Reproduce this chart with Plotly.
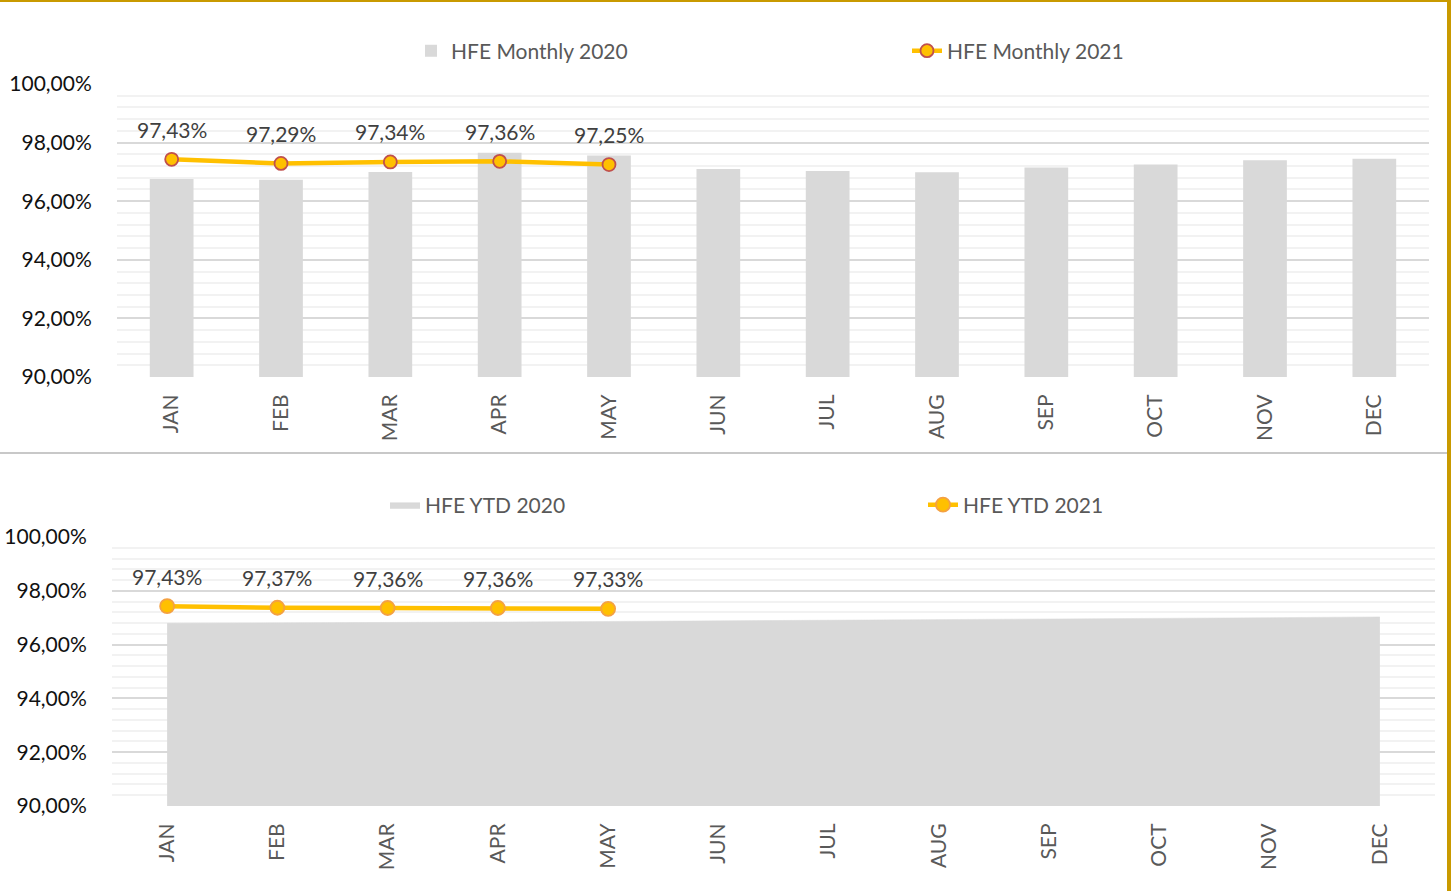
import plotly.graph_objects as go

months = ["JAN", "FEB", "MAR", "APR", "MAY", "JUN", "JUL", "AUG", "SEP", "OCT", "NOV", "DEC"]
monthly_2020 = [96.76, 96.73, 97.00, 97.65, 97.56, 97.10, 97.03, 96.99, 97.15, 97.25, 97.40, 97.45]
monthly_2021 = [97.43, 97.29, 97.34, 97.36, 97.25]
ytd_2020 = [96.79, 96.80, 96.82, 96.84, 96.86, 96.88, 96.90, 96.92, 96.95, 96.97, 97.00, 97.03]
ytd_2021 = [97.43, 97.37, 97.36, 97.36, 97.33]
y_ticks = [90, 92, 94, 96, 98, 100]

FONT = "Lato"
W, H = 1455, 891
GOLD = "#C99A00"
GREY_BAR = "#D9D9D9"
YELLOW = "#FFC000"


def fmt(v):
    return f"{v:.2f}".replace(".", ",") + "%"


fig = go.Figure()

fig.add_trace(go.Bar(
    x=months, y=monthly_2020, name="HFE Monthly 2020",
    marker=dict(color=GREY_BAR, line=dict(width=0)),
    xaxis="x", yaxis="y", legend="legend", base=0,
))
fig.add_trace(go.Scatter(
    x=months[:len(monthly_2021)], y=monthly_2021, name="HFE Monthly 2021",
    mode="lines+markers",
    line=dict(color=YELLOW, width=4.5),
    marker=dict(size=13, color=YELLOW, line=dict(color="#C0504D", width=1.8)),
    xaxis="x", yaxis="y", legend="legend2",
))
fig.add_trace(go.Scatter(
    x=months, y=ytd_2020, name="HFE YTD 2020",
    mode="lines", fill="tozeroy", fillcolor=GREY_BAR,
    line=dict(color=GREY_BAR, width=0.5),
    xaxis="x2", yaxis="y2", legend="legend3",
))
fig.add_trace(go.Scatter(
    x=months[:len(ytd_2021)], y=ytd_2021, name="HFE YTD 2021",
    mode="lines+markers",
    line=dict(color=YELLOW, width=4.5),
    marker=dict(size=14, color=YELLOW, line=dict(color="#F4A142", width=1.8)),
    xaxis="x2", yaxis="y2", legend="legend4",
))

annotations = []
for m, v in zip(months, monthly_2021):
    annotations.append(dict(x=m, y=v, xref="x", yref="y", text=fmt(v), showarrow=False,
                            yshift=30, font=dict(family=FONT, size=21, color="#404040")))
for m, v in zip(months, ytd_2021):
    annotations.append(dict(x=m, y=v, xref="x2", yref="y2", text=fmt(v), showarrow=False,
                            yshift=30, font=dict(family=FONT, size=21, color="#404040")))

xaxis_common = dict(
    type="category", showgrid=False, zeroline=False, automargin=False,
    showline=False, tickangle=-90, range=[-0.5, len(months) - 0.5],
    ticks="outside", ticklen=8, tickcolor="rgba(0,0,0,0)",
    tickfont=dict(family=FONT, size=21, color="#595959"),
    fixedrange=True,
)
yaxis_common = dict(
    range=[90, 100], tickvals=y_ticks, ticktext=[fmt(v) for v in y_ticks],
    showgrid=True, gridcolor="#D9D9D9", gridwidth=1.6, automargin=False,
    minor=dict(dtick=0.4, tick0=90, showgrid=True, gridcolor="#F2F2F2", gridwidth=1.6),
    zeroline=False, showline=False,
    ticks="outside", ticklen=20, tickcolor="rgba(0,0,0,0)",
    tickfont=dict(family=FONT, size=21, color="#111111"),
    fixedrange=True,
)


def legend_box(x_px, y_px):
    return dict(orientation="h", x=x_px / W, y=1 - y_px / H, xanchor="left", yanchor="middle",
                font=dict(family=FONT, size=21, color="#595959"), bgcolor="rgba(0,0,0,0)",
                borderwidth=0)


fig.update_layout(
    width=W, height=H,
    margin=dict(l=0, r=0, t=0, b=0, autoexpand=False),
    paper_bgcolor="white", plot_bgcolor="white",
    separators=",.",
    bargap=0.6,
    showlegend=True,
    xaxis=dict(domain=[117 / W, 1429 / W], anchor="y", **xaxis_common),
    yaxis=dict(domain=[1 - 377 / H, 1 - 84 / H], anchor="x", **yaxis_common),
    xaxis2=dict(domain=[112 / W, 1435 / W], anchor="y2", **xaxis_common),
    yaxis2=dict(domain=[1 - 806 / H, 1 - 537 / H], anchor="x2", **yaxis_common),
    legend=legend_box(411, 51),
    legend2=legend_box(907, 51),
    legend3=legend_box(385, 505),
    legend4=legend_box(923, 505),
    annotations=annotations,
    shapes=[
        dict(type="line", xref="paper", yref="paper", x0=0, x1=1451 / W, y0=1 - 1 / H, y1=1 - 1 / H,
             line=dict(color=GOLD, width=2)),
        dict(type="rect", xref="paper", yref="paper", x0=1447 / W, x1=1451 / W, y0=0, y1=1,
             fillcolor=GOLD, line=dict(width=0)),
        dict(type="line", xref="paper", yref="paper", x0=0, x1=1447 / W, y0=1 - 453 / H, y1=1 - 453 / H,
             line=dict(color="#C8C8C8", width=2)),
    ],
)

fig.write_html("out.html", config={"displayModeBar": False},
               post_script="document.body.style.margin='0';document.body.style.overflow='hidden';")
